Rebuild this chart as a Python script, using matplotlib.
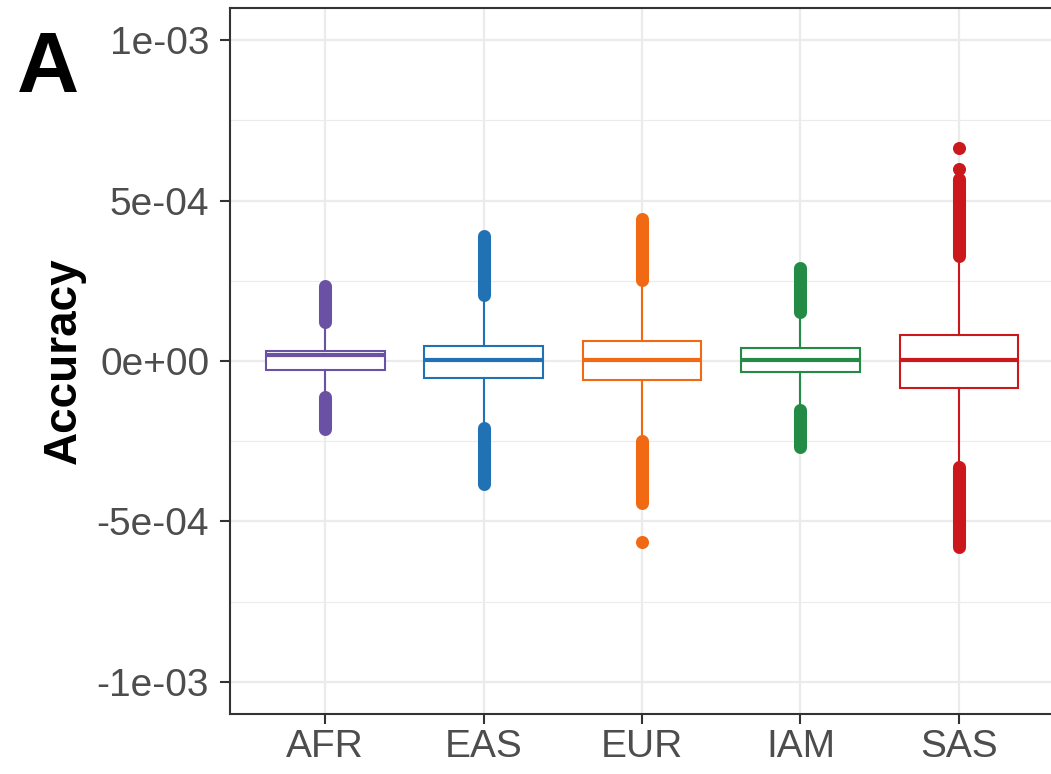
import matplotlib
matplotlib.use("Agg")
import matplotlib.pyplot as plt
from matplotlib.ticker import FixedLocator

plt.rcParams["font.family"] = ["Liberation Sans", "DejaVu Sans"]

# Populations and summary statistics of the accuracy distribution
categories = ["AFR", "EAS", "EUR", "IAM", "SAS"]
colors = ["#6A51A3", "#2171B5", "#F16913", "#238B45", "#CB181D"]

q1 = [-2.8e-5, -5.2e-5, -6.0e-5, -3.5e-5, -8.3e-5]
medians = [1.8e-5, 2e-6, 3e-6, 3e-6, 3e-6]
q3 = [3.2e-5, 4.8e-5, 6.3e-5, 4.0e-5, 8.1e-5]
whisker_lo = [-1.10e-4, -2.00e-4, -2.46e-4, -1.50e-4, -3.28e-4]
whisker_hi = [1.20e-4, 1.97e-4, 2.48e-4, 1.50e-4, 3.26e-4]

# Densely packed outliers: (start, end) of each continuous run
upper_runs = [(1.23e-4, 2.33e-4), (2.06e-4, 3.89e-4), (2.51e-4, 4.41e-4),
              (1.53e-4, 2.90e-4), (3.26e-4, 5.66e-4)]
lower_runs = [(-1.11e-4, -2.11e-4), (-2.08e-4, -3.84e-4), (-2.49e-4, -4.42e-4),
              (-1.52e-4, -2.69e-4), (-3.30e-4, -5.81e-4)]
# Isolated outliers
extra_outliers = [[], [], [-5.65e-4], [], [5.97e-4, 6.63e-4]]

y_ticks = [-1e-3, -5e-4, 0, 5e-4, 1e-3]
y_ticklabels = ["-1e-03", "-5e-04", "0e+00", "5e-04", "1e-03"]

W, H, DPI = 1051, 774, 100
fig = plt.figure(figsize=(W / DPI, H / DPI), dpi=DPI)
ax = fig.add_axes([230 / W, (774 - 714) / H, (1054 - 230) / W, (714 - 8) / H])

positions = list(range(1, len(categories) + 1))

# grid (ggplot theme_bw look)
ax.set_facecolor("white")
ax.set_axisbelow(True)
for y in [-7.5e-4, -2.5e-4, 2.5e-4, 7.5e-4]:
    ax.axhline(y, color="#EBEBEB", lw=0.8, zorder=0)
for y in y_ticks:
    ax.axhline(y, color="#EBEBEB", lw=1.6, zorder=0)
for x in positions:
    ax.axvline(x, color="#EBEBEB", lw=1.6, zorder=0)

stats = []
for i, name in enumerate(categories):
    stats.append(dict(label=name, q1=q1[i], med=medians[i], q3=q3[i],
                      whislo=whisker_lo[i], whishi=whisker_hi[i], fliers=[]))

pt_lw = 9.4  # outlier dot diameter in points
for i, st in enumerate(stats):
    c = colors[i]
    ax.bxp([st], positions=[positions[i]], widths=0.75, showfliers=False,
           showcaps=False, patch_artist=True,
           boxprops=dict(facecolor="white", edgecolor=c, linewidth=1.5),
           whiskerprops=dict(color=c, linewidth=1.5),
           medianprops=dict(color=c, linewidth=3.0, solid_capstyle="butt"),
           manage_ticks=False, zorder=3)
    for lo, hi in (upper_runs[i], lower_runs[i]):
        ax.plot([positions[i], positions[i]], [lo, hi], color=c, lw=pt_lw,
                solid_capstyle="round", zorder=4)
    if extra_outliers[i]:
        ax.plot([positions[i]] * len(extra_outliers[i]), extra_outliers[i],
                "o", color=c, ms=pt_lw, mew=0, zorder=4)

ax.set_xlim(0.4, 5.6)
ax.set_ylim(-1.1e-3, 1.1e-3)
ax.set_xticks(positions)
ax.set_xticklabels(categories)
ax.yaxis.set_major_locator(FixedLocator(y_ticks))
ax.set_yticklabels(y_ticklabels)

for s in ax.spines.values():
    s.set_color("#333333")
    s.set_linewidth(1.5)
ax.tick_params(axis="both", colors="#333333", width=1.5, length=7,
               labelsize=28, labelcolor="#4D4D4D")
ax.tick_params(axis="y", pad=8)
ax.tick_params(axis="x", pad=4)

ax.set_ylabel("Accuracy", fontsize=33, fontweight="bold", color="black",
              labelpad=8)

fig.text(17 / W, 1 - 92 / H, "A", fontsize=62, fontweight="bold",
         color="black", ha="left", va="baseline")

fig.savefig("out.png", dpi=DPI)
